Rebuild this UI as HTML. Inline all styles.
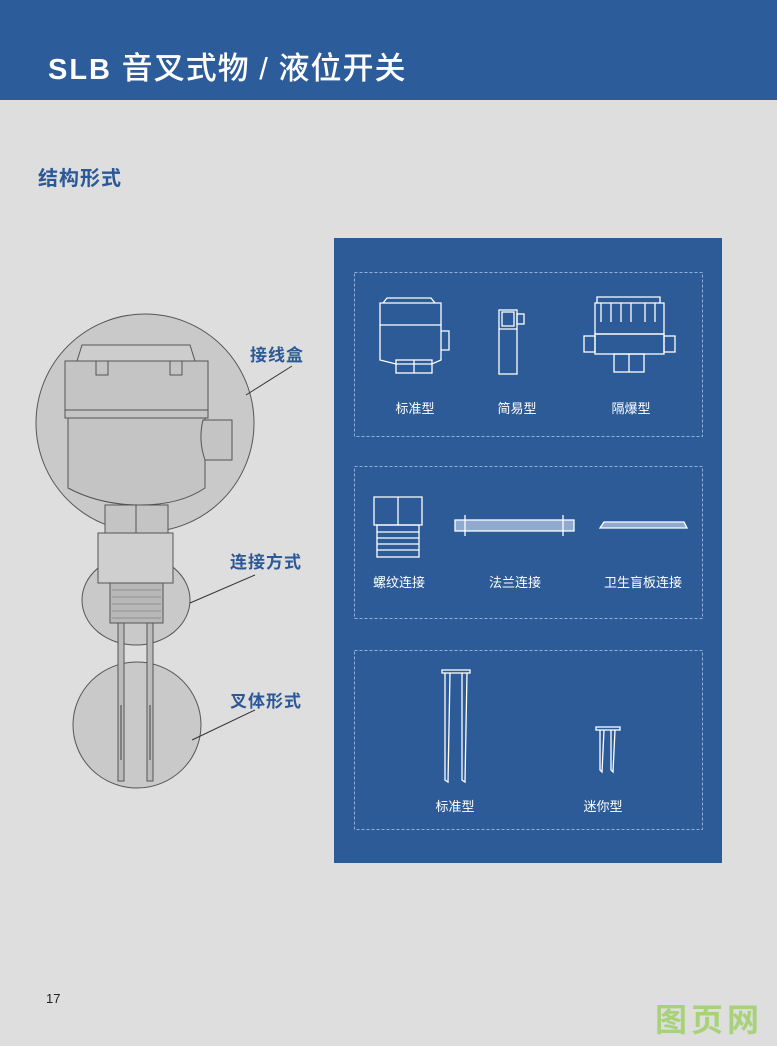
<!DOCTYPE html>
<html><head><meta charset="utf-8"><style>
html,body{margin:0;padding:0}
body{width:777px;height:1046px;background:#dedede;position:relative;overflow:hidden;font-family:"Liberation Sans","Noto Sans CJK SC",sans-serif}
.hdr{position:absolute;left:0;top:0;width:777px;height:100px;background:#2d5c9a}
.hdr div{position:absolute;left:48px;top:43px;color:#fff;font-size:31px;letter-spacing:1px;font-weight:500}
.hdr b{font-weight:900;font-size:29px;letter-spacing:2px}
.sec{position:absolute;left:38px;top:162px;color:#2b5897;font-size:20px;font-weight:bold;letter-spacing:1px}
.lab{position:absolute;color:#2b5897;font-size:17px;font-weight:bold;letter-spacing:1px}
.pg{position:absolute;left:46px;top:991px;font-size:13px;color:#222}
.wm{position:absolute;left:655px;top:995px;font-size:32px;color:#a8d27a;letter-spacing:4px;font-weight:bold}
</style></head><body>
<div class="hdr"><div><b>SLB</b> 音叉式物 / 液位开关</div></div>
<div class="sec">结构形式</div>
<div class="lab" style="left:250px;top:341px">接线盒</div>
<div class="lab" style="left:230px;top:548px">连接方式</div>
<div class="lab" style="left:230px;top:687px">叉体形式</div>
<div class="pg">17</div>
<div class="wm">图页网</div>
<svg width="777" height="1046" style="position:absolute;left:0;top:0" xmlns="http://www.w3.org/2000/svg">
<g stroke="#555" stroke-width="1" fill="#c9c9c9">
<ellipse cx="145" cy="423" rx="109" ry="109"/>
<ellipse cx="136" cy="600" rx="54" ry="45"/>
<ellipse cx="137" cy="725" rx="64" ry="63"/>
</g>
<g stroke="#333" stroke-width="1">
<line x1="292" y1="366" x2="246" y2="395"/>
<line x1="255" y1="575" x2="190" y2="603"/>
<line x1="255" y1="710" x2="192" y2="740"/>
</g>
<g stroke="#555" stroke-width="1" fill="#c4c4c4">
<rect x="98" y="533" width="75" height="50" fill="#cfcfcf"/>
<rect x="105" y="505" width="63" height="28"/>
<rect x="110" y="583" width="53" height="40" fill="#b8b8b8"/>
<path d="M77 361 L82 345 L190 345 L195 361 Z" fill="#cdcdcd"/>
<path d="M65 361 H208 V418 H65 Z"/>
<path d="M96 361 V375 H108 V361 M170 361 V375 H182 V361" fill="none"/>
<line x1="65" y1="410" x2="208" y2="410"/>
<path d="M68 418 H205 V488 Q180 505 140 505 Q100 505 68 488 Z"/>
<path d="M203 420 H232 V460 H205 Q198 440 203 420 Z"/>
<line x1="136" y1="505" x2="136" y2="533"/>
<rect x="118" y="623" width="6" height="158" fill="#bbb"/>
<rect x="147" y="623" width="6" height="158" fill="#bbb"/>
</g>
<g stroke="#444" stroke-width="1">
<line x1="121" y1="705" x2="121" y2="760"/><line x1="150" y1="705" x2="150" y2="760"/>
</g>
<g stroke="#666" stroke-width="0.6">
<line x1="112" y1="590" x2="161" y2="590"/><line x1="112" y1="597" x2="161" y2="597"/><line x1="112" y1="604" x2="161" y2="604"/><line x1="112" y1="611" x2="161" y2="611"/><line x1="112" y1="618" x2="161" y2="618"/>
</g>
<rect x="334" y="238" width="388" height="625" fill="#2c5b98"/>
<g fill="none" stroke="#8fb0d8" stroke-width="1" stroke-dasharray="3,2">
<rect x="354.5" y="272.5" width="348" height="164"/>
<rect x="354.5" y="466.5" width="348" height="152"/>
<rect x="354.5" y="650.5" width="348" height="179"/>
</g>
<g fill="none" stroke="#fff" stroke-width="1.3">
<path d="M383 303 L387 298 H431 L435 303 H380 V325 H441 V303 Z"/>
<path d="M380 325 V360 L396 364 H432 L441 360 V325 M441 331 H449 V350 H441"/>
<rect x="396" y="360" width="36" height="13"/><line x1="414" y1="360" x2="414" y2="373"/>
<rect x="499" y="310" width="18" height="64"/><rect x="502" y="312" width="12" height="14"/><rect x="517" y="314" width="7" height="10"/><line x1="499" y1="329" x2="517" y2="329"/>
<path d="M597 303 V297 H660 V303 M595 303 H664 V334 H595 Z M601 303 V322 M611 303 V322 M621 303 V322 M631 303 V322 M645 303 V322 M655 303 V322"/>
<rect x="595" y="334" width="69" height="20"/><rect x="584" y="336" width="11" height="16"/><rect x="664" y="336" width="11" height="16"/>
<rect x="614" y="354" width="30" height="18"/><line x1="629" y1="354" x2="629" y2="372"/>
<path d="M374 497 H422 V525 H374 Z M398 497 V525"/>
<rect x="377" y="525" width="42" height="32"/>
<path d="M377 532 H419 M377 538 H419 M377 544 H419 M377 550 H419"/>
<rect x="455" y="520" width="119" height="11" fill="#8fa9cf"/><line x1="465" y1="515" x2="465" y2="536"/><line x1="563" y1="515" x2="563" y2="536"/>
<path d="M600 528 L604 522 H684 L687 528 Z" fill="#8fa9cf"/>
<rect x="442" y="670" width="28" height="3"/><path d="M445 673 V780 L448 782 L450 673 M462 673 V780 L465 782 L467 673"/>
<rect x="596" y="727" width="24" height="3"/><path d="M600 730 V770 L602 772 L604 730 M611 730 V770 L613 772 L615 730"/>
</g>
<g fill="#fff" font-size="13" font-family="Liberation Sans, Noto Sans CJK SC, sans-serif" text-anchor="middle">
<text x="415" y="413">标准型</text><text x="517" y="413">简易型</text><text x="631" y="413">隔爆型</text>
<text x="399" y="587">螺纹连接</text><text x="515" y="587">法兰连接</text><text x="643" y="587">卫生盲板连接</text>
<text x="455" y="811">标准型</text><text x="603" y="811">迷你型</text>
</g>
</svg>
</body></html>
